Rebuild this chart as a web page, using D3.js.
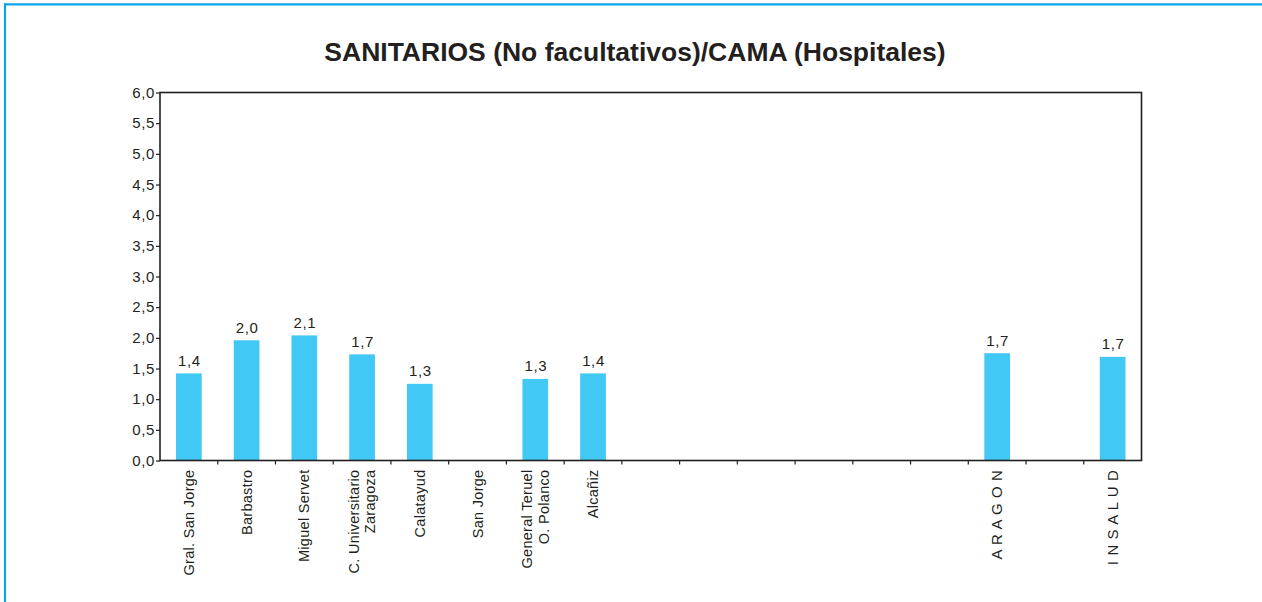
<!DOCTYPE html>
<html>
<head>
<meta charset="utf-8">
<script src="https://cdn.jsdelivr.net/npm/d3@7"></script>
<style>
  body { margin: 0; background: #fff; }
  svg { display: block; font-family: "Liberation Sans", Arial, sans-serif; }
</style>
</head>
<body>
<svg id="chart" width="1262" height="602"></svg>
<script>
// hospitales (17 huecos en el eje, varios vacios)
const categories = [
  ["Gral. San Jorge"], ["Barbastro"], ["Miguel Servet"], ["C. Universitario", "Zaragoza"],
  ["Calatayud"], ["San Jorge"], ["General Teruel", "O. Polanco"], ["Alcañiz"],
  [], [], [], [], [], [], ["A R A G O N"], [], ["I N S A L U D"]
];
const values = [1.42, 1.96, 2.04, 1.73, 1.25, null, 1.33, 1.42, null, null, null, null, null, null, 1.75, null, 1.69];
const valueLabels = ["1,4", "2,0", "2,1", "1,7", "1,3", "", "1,3", "1,4", "", "", "", "", "", "", "1,7", "", "1,7"];
const yTicks = [0, 0.5, 1, 1.5, 2, 2.5, 3, 3.5, 4, 4.5, 5, 5.5, 6];
const title = "SANITARIOS (No facultativos)/CAMA (Hospitales)";

const svg = d3.select("#chart");
const plotL = 160, plotR = 1141.5, plotT = 92.5, plotB = 460.5;
const ink = "#231f20";

// marco azul
svg.append("line").attr("x1", 4).attr("x2", 1262).attr("y1", 4.3).attr("y2", 4.3)
    .attr("stroke", "#0aa5e6").attr("stroke-width", 2.2);
svg.append("line").attr("x1", 5).attr("x2", 5).attr("y1", 3.2).attr("y2", 602)
    .attr("stroke", "#0aa5e6").attr("stroke-width", 2.2);

svg.append("text").attr("x", 635).attr("y", 61).attr("text-anchor", "middle")
    .attr("font-size", 26.5).attr("font-weight", "bold").attr("fill", ink).text(title);

const x = d3.scaleBand().domain(d3.range(categories.length)).range([plotL, plotR]).paddingInner(0);
const y = d3.scaleLinear().domain([0, 6]).range([plotB, plotT]);
const barW = x.bandwidth() * 0.445;

// barras
svg.append("g").selectAll("rect")
    .data(values.map((v, i) => ({v, i})).filter(d => d.v != null))
    .join("rect")
    .attr("x", d => x(d.i) + (x.bandwidth() - barW) / 2)
    .attr("y", d => y(d.v))
    .attr("width", barW)
    .attr("height", d => y(0) - y(d.v))
    .attr("fill", "#42c8f4");

svg.append("g").selectAll("text")
    .data(values.map((v, i) => ({v, i})).filter(d => d.v != null))
    .join("text")
    .attr("x", d => x(d.i) + x.bandwidth() / 2 + 0.5)
    .attr("y", d => y(d.v) - 7.5)
    .attr("text-anchor", "middle")
    .attr("font-size", 15).attr("letter-spacing", 0.6).attr("fill", ink)
    .text(d => valueLabels[d.i]);

// eje y
const yAxis = svg.append("g").attr("transform", `translate(${plotL},0)`)
    .call(d3.axisLeft(y).tickValues(yTicks).tickSize(4).tickPadding(1)
        .tickFormat(d => d3.format(".1f")(d).replace(".", ",")));
yAxis.select(".domain").remove();
yAxis.selectAll("line").attr("stroke", ink).attr("stroke-width", 1.2);
yAxis.selectAll("text").attr("font-size", 15).attr("letter-spacing", 0.6).attr("fill", ink).attr("font-family", null);

// ticks eje x en los limites de cada hueco
svg.append("g").selectAll("line")
    .data(d3.range(1, categories.length))
    .join("line")
    .attr("x1", d => x(d)).attr("x2", d => x(d))
    .attr("y1", plotB).attr("y2", plotB + 4)
    .attr("stroke", ink).attr("stroke-width", 1.2);

// marco del grafico
svg.append("rect").attr("x", plotL).attr("y", plotT)
    .attr("width", plotR - plotL).attr("height", plotB - plotT)
    .attr("fill", "none").attr("stroke", ink).attr("stroke-width", 1.6);

// etiquetas x rotadas
categories.forEach((lines, i) => {
    const cx = x(i) + x.bandwidth() / 2;
    const spaced = lines.length === 1 && lines[0].includes(" ") && lines[0].length > 10 && /^[A-Z ]+$/.test(lines[0]);
    lines.forEach((t, j) => {
        const off = (j - (lines.length - 1) / 2) * 16.5;
        svg.append("text")
            .attr("transform", `translate(${cx + off + 5},${plotB + 9}) rotate(-90)`)
            .attr("text-anchor", "end")
            .attr("font-size", spaced ? 15 : 14.5).attr("letter-spacing", spaced ? 0.6 : 0.3).attr("fill", ink)
            .text(t);
    });
});
</script>
</body>
</html>
